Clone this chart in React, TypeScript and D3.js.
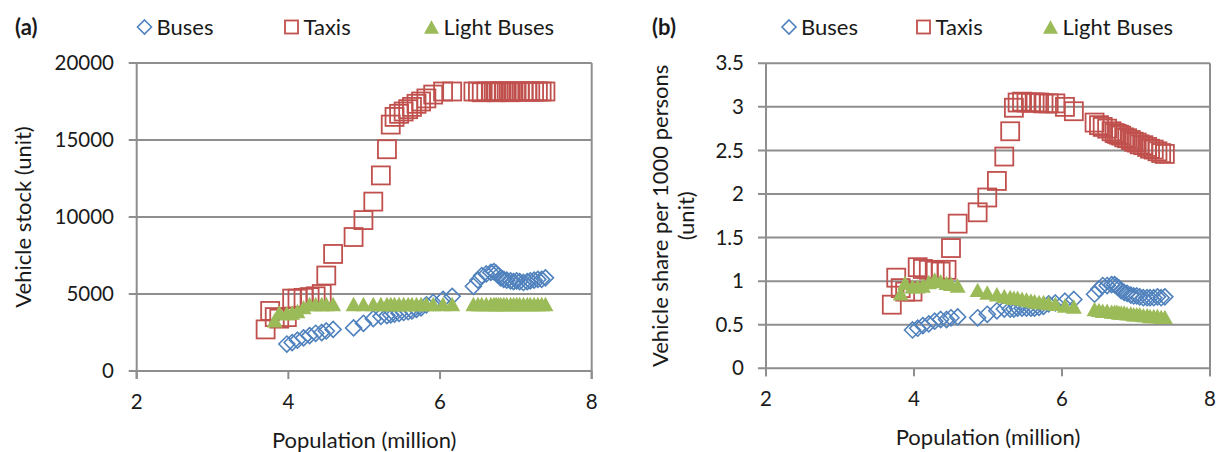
import React from "react";
import * as d3 from "d3";

// Population (million) for each observation
const population = [3.70, 3.76, 3.82, 3.88, 3.98, 4.05, 4.12, 4.20, 4.28, 4.36, 4.44, 4.50, 4.59, 4.86, 4.99, 5.12, 5.22, 5.30, 5.35, 5.40, 5.46, 5.52, 5.58, 5.63, 5.69, 5.75, 5.82, 5.91, 6.04, 6.16, 6.44, 6.50, 6.55, 6.61, 6.67, 6.71, 6.74, 6.77, 6.80, 6.84, 6.88, 6.93, 6.97, 7.01, 7.05, 7.10, 7.15, 7.19, 7.24, 7.29, 7.34, 7.39];

// Panel (a): vehicle stock (unit)
const busesStock = [null, null, null, null, 1750, 1850, 2000, 2150, 2300, 2450, 2500, 2600, 2700, 2800, 3100, 3400, 3550, 3600, 3650, 3700, 3750, 3800, 3850, 3900, 4000, 4100, 4300, 4450, 4650, 4850, 5500, 5900, 6200, 6300, 6400, 6450, 6350, 6200, 6050, 5950, 5900, 5850, 5800, 5850, 5800, 5750, 5800, 5850, 5900, 5950, 5950, 6050];
const taxisStock = [2700, 3900, 3500, 3400, 3500, 4700, 4700, 4750, 4800, 4850, 5000, 6200, 7600, 8700, 9800, 11000, 12700, 14400, 16000, 16500, 16700, 16850, 17000, 17150, 17350, 17500, 17700, 17950, 18150, 18150, 18150, 18150, 18100, 18150, 18150, 18150, 18100, 18150, 18150, 18150, 18150, 18100, 18150, 18150, 18150, 18150, 18150, 18150, 18150, 18150, 18150, 18150];
const lightBusesStock = [null, null, 3300, 3800, 3750, 3800, 3900, 4150, 4350, 4350, 4350, 4350, 4350, 4350, 4350, 4350, 4350, 4350, 4350, 4350, 4350, 4350, 4350, 4350, 4350, 4350, 4350, 4350, 4350, 4350, 4350, 4350, 4350, 4350, 4350, 4350, 4350, 4350, 4350, 4350, 4350, 4350, 4350, 4350, 4350, 4350, 4350, 4350, 4350, 4350, 4350, 4350];

// Panel (b): vehicle share per 1000 persons (unit)
const busesShare = [null, null, null, null, 0.44, 0.46, 0.49, 0.51, 0.54, 0.56, 0.56, 0.58, 0.59, 0.58, 0.62, 0.66, 0.68, 0.68, 0.68, 0.69, 0.69, 0.69, 0.69, 0.69, 0.70, 0.71, 0.74, 0.75, 0.77, 0.79, 0.85, 0.91, 0.95, 0.95, 0.96, 0.96, 0.94, 0.92, 0.89, 0.87, 0.86, 0.84, 0.83, 0.83, 0.82, 0.81, 0.81, 0.81, 0.81, 0.82, 0.81, 0.82];
const taxisShare = [0.73, 1.04, 0.92, 0.88, 0.88, 1.16, 1.14, 1.13, 1.12, 1.11, 1.13, 1.38, 1.66, 1.79, 1.96, 2.15, 2.43, 2.72, 2.99, 3.05, 3.06, 3.05, 3.05, 3.05, 3.05, 3.04, 3.04, 3.04, 3.00, 2.95, 2.82, 2.79, 2.77, 2.75, 2.72, 2.70, 2.69, 2.68, 2.67, 2.65, 2.64, 2.62, 2.60, 2.59, 2.57, 2.56, 2.54, 2.52, 2.51, 2.49, 2.47, 2.46];
const lightBusesShare = [null, null, 0.86, 0.98, 0.94, 0.94, 0.95, 0.99, 1.02, 1.00, 0.98, 0.97, 0.95, 0.90, 0.87, 0.85, 0.83, 0.82, 0.81, 0.81, 0.80, 0.79, 0.78, 0.77, 0.76, 0.76, 0.75, 0.74, 0.72, 0.71, 0.68, 0.67, 0.66, 0.66, 0.65, 0.65, 0.65, 0.64, 0.64, 0.64, 0.63, 0.63, 0.62, 0.62, 0.62, 0.61, 0.61, 0.60, 0.60, 0.60, 0.59, 0.59];

const seriesNames = ["Buses", "Taxis", "Light Buses"];
const xTicks = [2, 4, 6, 8];
const yTicksA = [0, 5000, 10000, 15000, 20000];
const yTicksB = [0, 0.5, 1, 1.5, 2, 2.5, 3, 3.5];

const BLUE = "#4F81BD";
const RED = "#C0504D";
const GREEN = "#9BBB59";
const GRID = "#8E8E8E";
const TXT = "#1a1a1a";
const FONT = "Lato, 'Open Sans', sans-serif";
const TEXT_SIZE = 22;
const NUM_SIZE = 20.5;

type Pt = { x: number; y: number };

function pts(vals: (number | null)[]): Pt[] {
  const out: Pt[] = [];
  vals.forEach((v, i) => {
    if (v !== null && v !== undefined) out.push({ x: population[i], y: v });
  });
  return out;
}

function Diamond({ cx, cy, r }: { cx: number; cy: number; r: number }) {
  return (
    <path
      d={`M${cx},${cy - r}L${cx + r},${cy}L${cx},${cy + r}L${cx - r},${cy}Z`}
      fill="none"
      stroke={BLUE}
      strokeWidth={1.6}
    />
  );
}
function Square({ cx, cy, s }: { cx: number; cy: number; s: number }) {
  return (
    <rect x={cx - s / 2} y={cy - s / 2} width={s} height={s} fill="none" stroke={RED} strokeWidth={1.8} />
  );
}
function Triangle({ cx, cy, w }: { cx: number; cy: number; w: number }) {
  const h = w * 0.9;
  return (
    <path
      d={`M${cx},${cy - h / 2}L${cx + w / 2},${cy + h / 2}L${cx - w / 2},${cy + h / 2}Z`}
      fill={GREEN}
      stroke="none"
    />
  );
}

type PanelProps = {
  label: string;
  x0: number;
  x1: number;
  yTop: number;
  yBot: number;
  yDomain: [number, number];
  yTicks: number[];
  bus: (number | null)[];
  taxi: (number | null)[];
  light: (number | null)[];
  legendX: [number, number, number];
  labelX: number;
  yTitle: string[];
  yTitleX: number[];
  yLabelRight: number;
};

function Panel(p: PanelProps) {
  const xs = d3.scaleLinear().domain([2, 8]).range([p.x0, p.x1]);
  const ys = d3.scaleLinear().domain(p.yDomain).range([p.yBot, p.yTop]);
  const midX = (p.x0 + p.x1) / 2;
  const midY = (p.yTop + p.yBot) / 2;
  const legendY = 27;
  return (
    <g fontFamily={FONT} fill={TXT}>
      {/* panel label */}
      <text x={p.labelX} y={legendY} dy="0.35em" fontSize={TEXT_SIZE} fontWeight="bold">{p.label}</text>
      {/* legend */}
      <Diamond cx={p.legendX[0]} cy={legendY} r={7} />
      <text x={p.legendX[0] + 12} y={legendY} dy="0.35em" fontSize={TEXT_SIZE}>{seriesNames[0]}</text>
      <Square cx={p.legendX[1]} cy={legendY} s={13} />
      <text x={p.legendX[1] + 12} y={legendY} dy="0.35em" fontSize={TEXT_SIZE}>{seriesNames[1]}</text>
      <Triangle cx={p.legendX[2]} cy={legendY} w={15} />
      <text x={p.legendX[2] + 12} y={legendY} dy="0.35em" fontSize={TEXT_SIZE}>{seriesNames[2]}</text>

      {/* gridlines */}
      {p.yTicks.map((t) => (
        <line key={"g" + t} x1={p.x0 - 8} x2={p.x1} y1={ys(t)} y2={ys(t)} stroke={GRID} strokeWidth={2} />
      ))}
      {/* axes */}
      <line x1={p.x0} x2={p.x0} y1={p.yTop} y2={p.yBot + 8} stroke={GRID} strokeWidth={2} />
      <line x1={p.x1} x2={p.x1} y1={p.yTop} y2={p.yBot + 8} stroke={GRID} strokeWidth={2} />
      {xTicks.map((t) => (
        <line key={"xt" + t} x1={xs(t)} x2={xs(t)} y1={p.yBot} y2={p.yBot + 8} stroke={GRID} strokeWidth={2} />
      ))}
      {/* y tick labels */}
      {p.yTicks.map((t) => (
        <text key={"yl" + t} x={p.yLabelRight} y={ys(t)} dy="0.35em" fontSize={NUM_SIZE} textAnchor="end">{String(t)}</text>
      ))}
      {/* x tick labels */}
      {xTicks.map((t) => (
        <text key={"xl" + t} x={xs(t)} y={p.yBot + 31} dy="0.35em" fontSize={NUM_SIZE} textAnchor="middle">{String(t)}</text>
      ))}
      {/* axis titles */}
      <text x={midX} y={p.yBot + 69} dy="0.35em" fontSize={TEXT_SIZE} textAnchor="middle">Population (million)</text>
      {p.yTitle.map((s, i) => (
        <text key={"yt" + i} transform={`translate(${p.yTitleX[i]},${midY}) rotate(-90)`} dy="0.35em" fontSize={TEXT_SIZE} textAnchor="middle">{s}</text>
      ))}

      {/* data */}
      {pts(p.bus).map((d, i) => (
        <Diamond key={"b" + i} cx={xs(d.x)} cy={ys(d.y)} r={8} />
      ))}
      {pts(p.taxi).map((d, i) => (
        <Square key={"t" + i} cx={xs(d.x)} cy={ys(d.y)} s={18} />
      ))}
      {pts(p.light).map((d, i) => (
        <Triangle key={"l" + i} cx={xs(d.x)} cy={ys(d.y)} w={16} />
      ))}
    </g>
  );
}

export default function App() {
  return (
    <svg
      width={1223}
      height={452}
      style={{ position: "absolute", left: 0, top: 0, background: "#fff" }}
    >
      <rect width={1223} height={452} fill="#fff" />
      <Panel
        label="(a)"
        x0={136.7}
        x1={591.7}
        yTop={63}
        yBot={371}
        yDomain={[0, 20000]}
        yTicks={yTicksA}
        bus={busesStock}
        taxi={taxisStock}
        light={lightBusesStock}
        legendX={[144.5, 291.5, 431.5]}
        labelX={15}
        yTitle={["Vehicle stock (unit)"]}
        yTitleX={[23]}
        yLabelRight={114}
      />
      <Panel
        label="(b)"
        x0={766}
        x1={1210}
        yTop={63.3}
        yBot={368.3}
        yDomain={[0, 3.5]}
        yTicks={yTicksB}
        bus={busesShare}
        taxi={taxisShare}
        light={lightBusesShare}
        legendX={[789, 923.5, 1050.5]}
        labelX={652}
        yTitle={["Vehicle share per 1000 persons", "(unit)"]}
        yTitleX={[660, 686]}
        yLabelRight={744}
      />
    </svg>
  );
}
